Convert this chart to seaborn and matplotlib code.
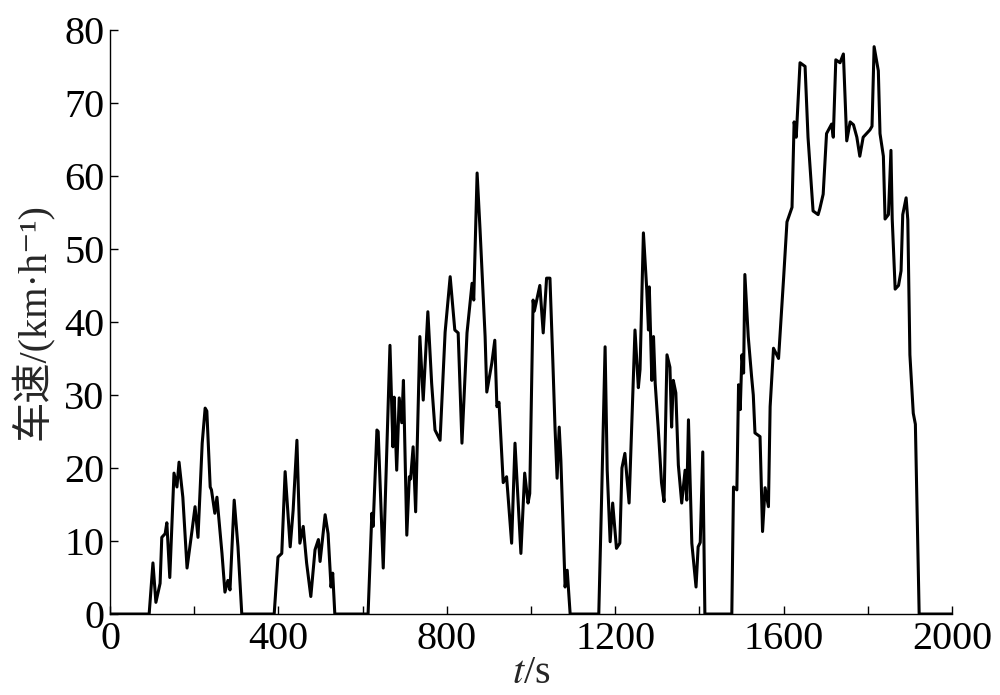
import matplotlib
matplotlib.use("Agg")
import matplotlib.pyplot as plt
import seaborn as sns
import pandas as pd
from matplotlib.ticker import MultipleLocator

# 时间 (s) 与 车速 (km/h)
time_s = [
    0, 93, 102, 109, 119, 123, 131, 135, 142, 152, 159, 164, 173, 183, 195,
    202, 209, 219, 226, 230, 238, 241, 249, 254, 266, 273, 280, 285, 295, 304,
    313, 390, 399, 408, 416, 428, 435, 444, 451, 459, 467, 477, 487, 495, 499,
    511, 518, 525, 529, 534, 613, 622, 625, 634, 637, 649, 665, 672, 675, 681,
    687, 693, 697, 705, 711, 714, 720, 726, 736, 744, 755, 764, 772, 784, 796,
    808, 819, 827, 836, 848, 860, 864, 872, 879, 891, 895, 907, 914, 919, 924,
    934, 942, 954, 962, 976, 985, 993, 997, 1005, 1008, 1021, 1029, 1037, 1045,
    1052, 1057, 1062, 1067, 1071, 1081, 1086, 1093, 1161, 1168, 1176, 1181,
    1188, 1194, 1203, 1211, 1216, 1223, 1233, 1247, 1255, 1259, 1267, 1275,
    1279, 1281, 1287, 1291, 1295, 1302, 1310, 1316, 1323, 1330, 1334, 1338,
    1344, 1350, 1358, 1366, 1370, 1374, 1382, 1392, 1397, 1402, 1408, 1413,
    1477, 1481, 1489, 1493, 1497, 1501, 1505, 1508, 1516, 1524, 1528, 1532,
    1544, 1550, 1556, 1564, 1568, 1576, 1588, 1600, 1608, 1620, 1625, 1630,
    1639, 1651, 1658, 1670, 1682, 1686, 1694, 1702, 1714, 1718, 1724, 1734,
    1742, 1750, 1758, 1766, 1774, 1781, 1789, 1805, 1810, 1815, 1825, 1829,
    1837, 1841, 1849, 1855, 1858, 1865, 1873, 1879, 1883, 1891, 1895, 1900,
    1908, 1913, 1922, 2000,
]
speed_kmh = [
    0, 0, 7.0, 1.6, 4.2, 10.5, 11, 12.5, 5, 19.3, 17.4, 20.8, 16, 6.3, 11.5,
    14.7, 10.5, 23.4, 28.2, 27.8, 17.4, 17, 13.8, 16, 8.3, 3, 4.6, 3.3, 15.6, 9.2,
    0, 0, 7.8, 8.3, 19.5, 9.2, 14.2, 23.8, 9.7, 12, 7, 2.4, 8.8, 10.2, 7.2,
    13.6, 11, 3.7, 5.6, 0, 0, 13.8, 12, 25.2, 25, 6.3, 36.8, 22.9, 29.7, 19.7,
    29.6, 26.2, 32, 10.8, 18.8, 18.5, 22.9, 14, 38, 29.3, 41.4, 31.6, 25.2, 23.8, 38.6,
    46.2, 38.9, 38.5, 23.4, 38.5, 45.3, 43, 60.4, 52.6, 38, 30.4, 34.4, 37.5, 28.4, 29,
    18, 18.8, 9.7, 23.4, 8.3, 19.3, 15.2, 16.5, 43, 41.5, 45, 38.5, 46, 46,
    34.4, 25.6, 18.6, 25.6, 21, 3.7, 6, 0, 0, 16.6, 36.6, 19.7,
    9.9, 15.2, 9, 9.7, 20, 22, 15.2, 38.9, 31, 33.5, 52.2, 44.4,
    38.9, 44.8, 32, 38, 31.6, 25.6, 18, 15.4, 35.5, 33.8, 25.6, 32,
    30.3, 20.4, 15.2, 19.7, 15.6, 26.6, 9.7, 3.7, 9.2, 9.8, 22.2, 0,
    0, 17.4, 17, 31.4, 28, 35.5, 33, 46.5, 38, 32.5, 30, 24.8,
    24.3, 11.3, 17.3, 14.7, 28.4, 36.4, 35, 46, 53.7, 55.7, 67.4, 65.3,
    75.5, 75, 65.3, 55.2, 54.7, 55.5, 57.5, 65.8, 67.1, 65.3, 75.9, 75.5,
    76.7, 64.8, 67.4, 67, 65.3, 62.7, 65.3, 66.3, 66.8, 77.7, 74.4, 65.8,
    62.7, 54.1, 54.7, 63.5, 54.1, 44.5, 45, 47, 54.7, 57, 54, 35.5,
    27.5, 26, 0, 0,
]

df = pd.DataFrame({"t": time_s, "v": speed_kmh})

sns.set_style("ticks")
plt.rcParams["font.family"] = ["Liberation Serif", "Noto Sans CJK SC", "DejaVu Serif"]
plt.rcParams["mathtext.fontset"] = "stix"

fig = plt.figure(figsize=(10, 6.95), dpi=100)
ax = fig.add_axes([0.11, 0.1165, 0.842, 0.8405])

sns.lineplot(data=df, x="t", y="v", color="black", linewidth=2.2, ax=ax,
             sort=False, estimator=None)

ax.set_xlim(0, 2000)
ax.set_ylim(0, 80)
ax.xaxis.set_major_locator(MultipleLocator(400))
ax.xaxis.set_minor_locator(MultipleLocator(200))
ax.yaxis.set_major_locator(MultipleLocator(10))
ax.tick_params(axis="both", which="both", direction="in", colors="black",
               labelsize=29, width=1.0)
ax.tick_params(axis="both", which="major", length=6)
ax.tick_params(axis="x", which="minor", length=6)
ax.tick_params(axis="x", which="major", pad=5)
ax.tick_params(axis="y", which="major", pad=4)

sns.despine(ax=ax)
for s in ["left", "bottom"]:
    ax.spines[s].set_linewidth(1.0)
    ax.spines[s].set_color("black")

ax.set_xlabel(r"$t$/s", fontsize=29, labelpad=-2)
ax.set_ylabel("车速/(km·h⁻¹)", fontsize=29, labelpad=8)

fig.savefig("out.png", dpi=100, facecolor="white")
